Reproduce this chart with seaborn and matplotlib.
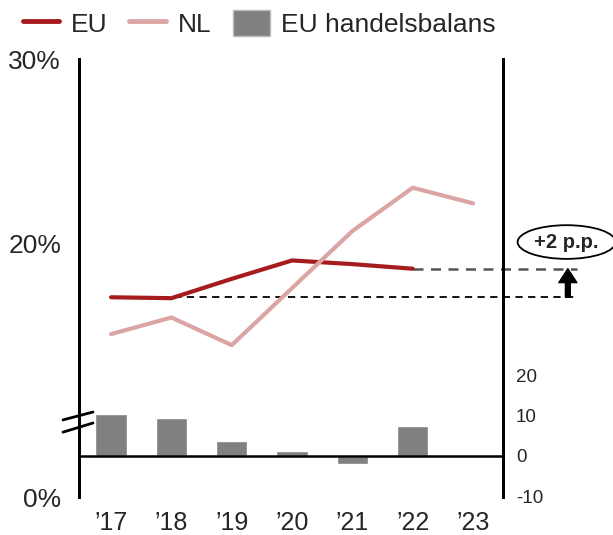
import numpy as np
import pandas as pd
import matplotlib
matplotlib.use("Agg")
import matplotlib.pyplot as plt
import seaborn as sns
from matplotlib.lines import Line2D
from matplotlib.patches import Patch

# data
years = ["\u201917", "\u201918", "\u201919", "\u201920", "\u201921", "\u201922", "\u201923"]
eu_share = [17.1, 17.05, 18.1, 19.1, 18.9, 18.65]          # % , EU line ('17-'22)
nl_share = [15.1, 16.0, 14.5, 17.6, 20.7, 23.05, 22.2]      # % , NL line
eu_balance = [10.5, 9.4, 3.8, 1.3, -2.0, 7.5, np.nan]       # right axis, bars

eu_col = "#a61c1e"
nl_col = "#dca5a5"
bar_col = "#808080"

sns.set_style("white")
plt.rcParams["font.family"] = ["Liberation Sans", "DejaVu Sans"]

fig = plt.figure(figsize=(6.13, 5.35), dpi=100)
ax = fig.add_axes([0.129, 0.071, 0.692, 0.819])
ax2 = ax.twinx()

xpos = np.arange(len(years))

# bars on the right-hand scale
bars = pd.DataFrame({"year": years, "balance": eu_balance})
sns.barplot(data=bars, x="year", y="balance", ax=ax2, color=bar_col,
            saturation=1, width=0.52, order=years)
ax2.axhline(0, color="black", lw=1.8, zorder=1)

# lines on the left-hand scale
sns.lineplot(x=xpos[:len(eu_share)], y=eu_share, ax=ax, color=eu_col, lw=3)
sns.lineplot(x=xpos, y=nl_share, ax=ax, color=nl_col, lw=3)

# reference dashes and the +2 p.p. marker
x_end = 7.72
ax.plot([0, x_end], [eu_share[0], eu_share[0]], ls=(0, (4, 3)), color="black",
        lw=1.3, clip_on=False, zorder=1)
ax.plot([len(eu_share) - 1, x_end], [eu_share[-1], eu_share[-1]], ls=(0, (4, 3)),
        color="#555555", lw=1.8, clip_on=False, zorder=1)
ax.annotate("", xy=(7.57, eu_share[-1]), xytext=(7.57, eu_share[0]),
            arrowprops=dict(facecolor="black", edgecolor="black", width=3.5,
                            headwidth=13, headlength=10, shrink=0),
            annotation_clip=False)
ax.text(7.55, 20.1, "+2 p.p.", ha="center", va="center", fontsize=14.5,
        fontweight="bold", clip_on=False,
        bbox=dict(boxstyle="ellipse,pad=0.12", fc="white", ec="black", lw=1.3))

# axes scales
ax.set_xlim(-0.53, 6.5)
ax.set_ylim(6.25, 30.05)
ax2.set_ylim(-10.25, 99.25)
ax.set_yticks([6.25, 20, 30])
ax.set_yticklabels(["0%", "20%", "30%"], fontsize=19)
ax2.set_yticks([-10, 0, 10, 20])
ax2.set_yticklabels(["-10", "0", "10", "20"], fontsize=13.5)
ax.set_xticks(xpos)
ax.set_xticklabels(years, fontsize=18)
ax2.set_xlim(-0.53, 6.5)
ax.set_xlabel("")
ax.set_ylabel("")
ax2.set_xlabel("")
ax2.set_ylabel("")
ax.tick_params(axis="y", length=0, pad=13)
ax.tick_params(axis="x", length=0, pad=10)
ax2.tick_params(axis="y", length=0, pad=9)
ax2.tick_params(axis="x", length=0, labelbottom=False)

for a in (ax, ax2):
    for s in ("top", "bottom"):
        a.spines[s].set_visible(False)
    for s in ("left", "right"):
        a.spines[s].set_color("black")
        a.spines[s].set_linewidth(2)

# axis break marks on the left spine
for y0, y1 in ((0.176, 0.194), (0.148, 0.169)):
    ax.plot([-0.038, 0.033], [y0, y1], transform=ax.transAxes,
            color="black", lw=2, clip_on=False, zorder=0)

handles = [Line2D([], [], color=eu_col, lw=3.5),
           Line2D([], [], color=nl_col, lw=3.5),
           Patch(facecolor=bar_col, edgecolor="#bbbbbb")]
fig.legend(handles, ["EU", "NL", "EU handelsbalans"], loc="upper left",
           bbox_to_anchor=(-0.002, 1.025), ncol=3, frameon=False, fontsize=19,
           handlelength=1.4, handleheight=1.1, handletextpad=0.45,
           columnspacing=0.8)

fig.savefig("out.png", dpi=100)
